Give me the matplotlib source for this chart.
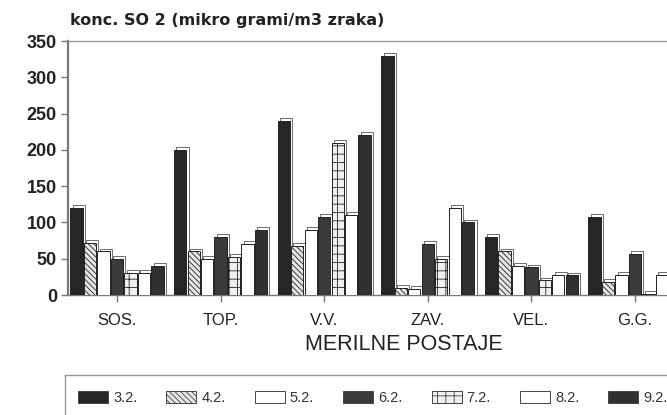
import matplotlib
matplotlib.use("Agg")
import matplotlib.pyplot as plt
import numpy as np
from matplotlib.patches import Patch
from matplotlib.lines import Line2D

stations = ["SOS.", "TOP.", "V.V.", "ZAV.", "VEL.", "G.G."]
series = ["3.2.", "4.2.", "5.2.", "6.2.", "7.2.", "8.2.", "9.2."]
v_03 = [120, 200, 240, 330, 80, 108]
v_04 = [72, 60, 68, 10, 60, 18]
v_05 = [60, 50, 90, 8, 40, 28]
v_06 = [50, 80, 108, 70, 38, 57]
v_07 = [30, 52, 210, 50, 20, 2]
v_08 = [30, 70, 110, 120, 28, 28]
v_09 = [40, 90, 220, 100, 27, 30]
values = [v_03, v_04, v_05, v_06, v_07, v_08, v_09]
yticks = [0, 50, 100, 150, 200, 250, 300, 350]

faces = ["#262626", "#e6e6e6", "white", "#3a3a3a", "#f0f0f0", "white", "#303030"]
hatches = [None, "\\\\\\\\\\\\", None, None, "++", None, None]

plt.rcParams["font.family"] = ["Liberation Sans", "DejaVu Sans"]
plt.rcParams["hatch.linewidth"] = 0.6
plt.rcParams["hatch.color"] = "#555555"

W, H = 667, 415
fig = plt.figure(figsize=(W / 100, H / 100), dpi=100)
left, right, top, bottom = 68, 740, 41, 295
ax = fig.add_axes([left / W, 1 - bottom / H, (right - left) / W, (bottom - top) / H])

x = np.arange(len(stations))
bw = 0.118
pitch = 0.13
depth_dx = 0.022
depth_dy = 4

for i, (vals, fc, ht) in enumerate(zip(values, faces, hatches)):
    xs = x + (i - 3) * pitch
    v = np.array(vals)
    ax.bar(xs + depth_dx, v + depth_dy, width=bw, color="white",
           edgecolor="#555555", linewidth=0.6, zorder=2 + 2 * i)
    ax.bar(xs, v, width=bw, color=fc, edgecolor="#222222", linewidth=0.7,
           hatch=ht, zorder=3 + 2 * i)

ax.set_xlim(-0.473, (right - 117) / 103.6)
ax.set_ylim(0, 350)
ax.set_yticks(yticks)
ax.set_yticklabels([str(t) for t in yticks], fontsize=13, fontweight="bold",
                   color="#222222")
ax.set_xticks(x)
ax.set_xticklabels(stations, fontsize=12, color="#222222")
ax.tick_params(axis="both", direction="out", length=5, color="#777777", width=1)
ax.tick_params(axis="x", pad=8)
ax.tick_params(axis="y", pad=3)
ax.spines["right"].set_visible(False)
ax.spines["left"].set_color("#777777")
ax.spines["left"].set_linewidth(1.6)
ax.spines["top"].set_color("#999999")
ax.spines["top"].set_linewidth(1.0)
ax.spines["bottom"].set_color("#777777")
ax.spines["bottom"].set_linewidth(1.0)

ax.set_xlabel("MERILNE POSTAJE", fontsize=15.5, color="#222222", labelpad=4)

fig.text(70 / W, 1 - 21 / H, "konc. SO 2 (mikro grami/m3 zraka)", fontsize=11.5,
         fontweight="bold", family="DejaVu Sans", color="#222222",
         va="center", ha="left")

handles = [Patch(facecolor=fc, edgecolor="#444444", hatch=ht, linewidth=0.7)
           for fc, ht in zip(faces, hatches)]
fig.legend(handles, series, loc="center left",
           bbox_to_anchor=(78 / W, 1 - 398 / H), bbox_transform=fig.transFigure,
           ncol=7, frameon=False, fontsize=10.5, handlelength=2.05,
           handleheight=0.9, handletextpad=0.35, columnspacing=2.0,
           borderpad=0, borderaxespad=0, labelcolor="#333333")

fig.add_artist(Line2D([65 / W, 1.0], [1 - 375 / H, 1 - 375 / H],
                      transform=fig.transFigure, color="#999999", lw=1))
fig.add_artist(Line2D([65 / W, 65 / W], [1 - 375 / H, 0],
                      transform=fig.transFigure, color="#999999", lw=1))

fig.savefig("out.png", dpi=100)
